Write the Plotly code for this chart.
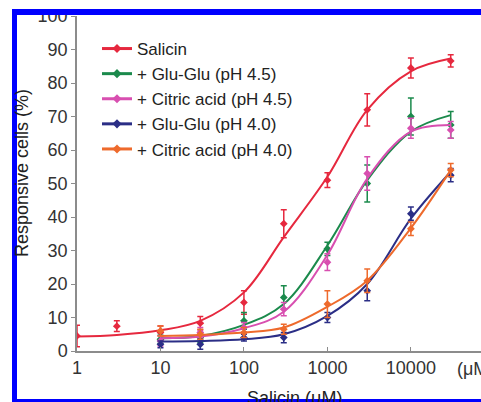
import plotly.graph_objects as go

# ---- data ----
x_sal = [1, 3, 10, 30, 100, 300, 1000, 3000, 10000, 30000]
x_mix = [10, 30, 100, 300, 1000, 3000, 10000, 30000]

salicin_y = [4.5, 7.4, 5.5, 8.3, 14.5, 38, 51, 72, 84.5, 86.6]
salicin_err = [3.2, 1.6, 2, 2, 3.5, 4.2, 2.2, 4.8, 3, 1.8]
glu45_y = [3.5, 4, 9, 16, 30.5, 50, 70, 67.5]
glu45_err = [1.2, 1.5, 2.5, 3.5, 2, 5.5, 5.5, 4]
cit45_y = [3, 5.5, 7, 12.5, 26.5, 53, 66.5, 66]
cit45_err = [1.5, 1.5, 1.5, 2, 2.5, 5, 3, 2.5]
glu40_y = [2, 2, 4, 4, 10, 18, 41, 52.5]
glu40_err = [1, 1.5, 1, 1.5, 1.5, 3, 2, 2]
cit40_y = [6, 5, 5.5, 6.5, 14, 21, 36.5, 54]
cit40_err = [1.5, 1.5, 1.5, 1.5, 4, 3.5, 2, 2]

# fitted curves, values
salicin_fit = [4.3, 4.8, 6.2, 9, 17.5, 34, 52, 72, 83.5, 87.3]
glu45_fit = [3.8, 4.5, 7.8, 14, 31.5, 51, 65.5, 70.4]
cit45_fit = [3.8, 4.3, 6.8, 11.7, 28.7, 51.5, 65.5, 67.5]
glu40_fit = [2.8, 3, 3.5, 5, 10.5, 20, 39.5, 53.5]
cit40_fit = [4.5, 4.8, 5.5, 7, 13.2, 21, 36.7, 54]

names = ["Salicin", "+ Glu-Glu (pH 4.5)", "+ Citric acid (pH 4.5)",
         "+ Glu-Glu (pH 4.0)", "+ Citric acid (pH 4.0)"]
colors = ["#e6283e", "#1b8a4c", "#d84fb0", "#2b2e86", "#ee6a2c"]

series = [
    (x_sal, salicin_y, salicin_err, salicin_fit),
    (x_mix, glu45_y, glu45_err, glu45_fit),
    (x_mix, cit45_y, cit45_err, cit45_fit),
    (x_mix, glu40_y, glu40_err, glu40_fit),
    (x_mix, cit40_y, cit40_err, cit40_fit),
]

FONT = "Liberation Sans, Arial, sans-serif"
FS = 18
W, H = 481, 402
L, R, T, B = 77, 0, 16, 51
pw, ph = W - L - R, H - T - B


def px(x):
    return (x - L) / pw


def py(y):
    return (H - B - y) / ph


fig = go.Figure()
for i, ((xs, ys, es, fit), nm, c) in enumerate(zip(series, names, colors)):
    fig.add_trace(go.Scatter(x=xs, y=fit, mode="lines", line=dict(color=c, width=2, shape="spline"),
                             showlegend=False, hoverinfo="skip"))
    fig.add_trace(go.Scatter(x=xs, y=ys, mode="markers",
                             marker=dict(symbol="diamond", size=6, color=c),
                             error_y=dict(type="data", array=es, color=c, thickness=1.5, width=3),
                             showlegend=False))
    fig.add_trace(go.Scatter(x=[None], y=[None], mode="lines+markers", name=nm,
                             line=dict(color=c, width=3),
                             marker=dict(symbol="diamond", size=7, color=c)))

axis_common = dict(showgrid=False, zeroline=False, showline=True, linecolor="#8c8c8c",
                   linewidth=1.5, tickcolor="#8c8c8c", ticklen=4,
                   tickfont=dict(family=FONT, size=FS, color="#333333"))

fig.update_xaxes(type="log", range=[0, 4.84], tickvals=[1, 10, 100, 1000, 10000],
                 ticktext=["1", "10", "100", "1000", "10000"], ticks="inside", **axis_common)
fig.update_yaxes(range=[0, 100], tickvals=list(range(0, 101, 10)), ticks="outside", **axis_common)

fig.update_layout(
    width=W, height=H, margin=dict(l=L, r=R, t=T, b=B, autoexpand=False),
    paper_bgcolor="white", plot_bgcolor="white",
    font=dict(family=FONT, size=FS, color="#222222"),
    legend=dict(x=px(97), y=py(31), xanchor="left", yanchor="top", bgcolor="rgba(0,0,0,0)",
                borderwidth=0, tracegroupgap=0, font=dict(family=FONT, size=17, color="#222222")),
    showlegend=True,
)

fig.add_annotation(text="(μM)", xref="paper", yref="paper", x=px(455), y=py(369),
                   xanchor="left", yanchor="middle", showarrow=False,
                   font=dict(family=FONT, size=FS, color="#333333"))
fig.add_annotation(text="Salicin (μM)", xref="paper", yref="paper", x=px(294), y=py(386),
                   xanchor="center", yanchor="top", showarrow=False,
                   font=dict(family=FONT, size=FS, color="#222222"))
fig.add_annotation(text="Responsive cells (%)", xref="paper", yref="paper", x=px(22), y=py(173),
                   xanchor="center", yanchor="middle", showarrow=False, textangle=-90,
                   font=dict(family=FONT, size=FS, color="#222222"))

# blue frame of the cropped figure
blue = "#0000ff"
fig.add_shape(type="rect", xref="paper", yref="paper", x0=px(12), x1=px(17), y0=py(402), y1=py(9),
              fillcolor=blue, line_width=0, layer="above")
fig.add_shape(type="rect", xref="paper", yref="paper", x0=px(12), x1=px(481), y0=py(15), y1=py(9),
              fillcolor=blue, line_width=0, layer="above")
fig.add_shape(type="rect", xref="paper", yref="paper", x0=px(12), x1=px(481), y0=py(402), y1=py(399),
              fillcolor=blue, line_width=0, layer="above")

fig.write_html("out.html")
